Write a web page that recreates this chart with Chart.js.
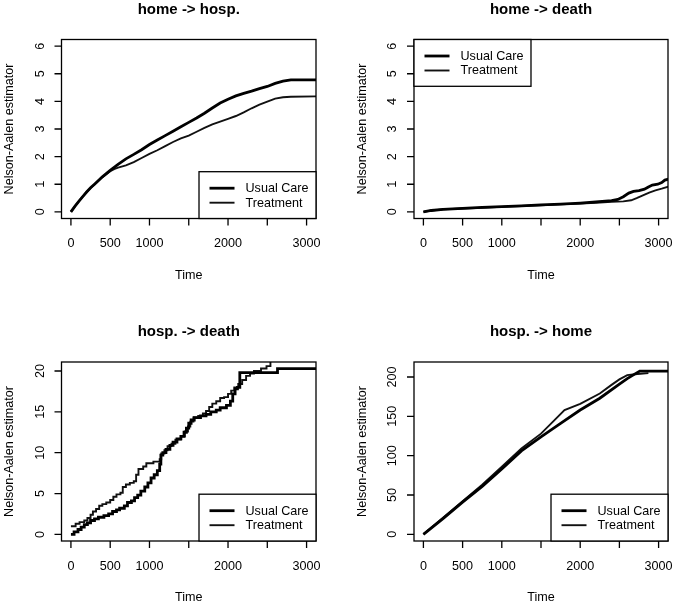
<!DOCTYPE html>
<html>
<head>
<meta charset="utf-8">
<script src="https://cdn.jsdelivr.net/npm/chart.js@4.4.1/dist/chart.umd.min.js"></script>
<style>
    body { margin: 0; background: #fff; overflow: hidden; }
    #wrap { position: relative; width: 675px; height: 603px; }
    canvas { position: absolute; }
</style>
</head>
<body>
<div id="wrap">
    <canvas id="p1" width="337" height="300" style="left:0;top:0"></canvas>
    <canvas id="p2" width="338" height="300" style="left:337px;top:0"></canvas>
    <canvas id="p3" width="337" height="303" style="left:0;top:300px"></canvas>
    <canvas id="p4" width="338" height="303" style="left:337px;top:300px"></canvas>
</div>
<script>
const seriesNames = ['Usual Care', 'Treatment'];
const xTicks = [0, 500, 1000, 1500, 2000, 2500, 3000];
const xTickLabels = ['0', '500', '1000', '', '2000', '', '3000'];

// home -> hosp.
const hospTimes = [0, 50, 100, 150, 200, 250, 300, 400, 500, 550, 600, 700, 800, 900, 1000, 1100, 1200, 1300, 1400, 1500,
    1600, 1700, 1800, 1900, 2000, 2100, 2200, 2300, 2400, 2500, 2600, 2700, 2800, 3140];
const hospUsual = [0, 0.2, 0.38, 0.55, 0.72, 0.87, 1.0, 1.27, 1.5, 1.61, 1.72, 1.92, 2.08, 2.25, 2.44, 2.6, 2.76, 2.92, 3.08, 3.24,
    3.4, 3.57, 3.76, 3.94, 4.08, 4.2, 4.29, 4.37, 4.46, 4.54, 4.65, 4.73, 4.78, 4.78];
const hospTreat = [0, 0.2, 0.38, 0.55, 0.72, 0.86, 0.99, 1.25, 1.47, 1.55, 1.6, 1.68, 1.8, 1.95, 2.1, 2.23, 2.38, 2.53, 2.66, 2.76,
    2.9, 3.04, 3.17, 3.27, 3.37, 3.47, 3.6, 3.75, 3.88, 3.99, 4.1, 4.15, 4.17, 4.18];
const hospYTicks = [0, 1, 2, 3, 4, 5, 6];

// home -> death
const deathUsualT = [0, 100, 250, 500, 750, 1000, 1250, 1500, 1750, 2000, 2200, 2400, 2480, 2550, 2620, 2680, 2750, 2820, 2870, 2920, 2990, 3040, 3080, 3140];
const deathUsualY = [0, 0.05, 0.09, 0.13, 0.16, 0.19, 0.22, 0.25, 0.28, 0.32, 0.36, 0.41, 0.45, 0.55, 0.68, 0.74, 0.77, 0.82, 0.9, 0.97, 1.0, 1.06, 1.15, 1.2];
const deathTreatT = [0, 100, 250, 500, 750, 1000, 1250, 1500, 1750, 2000, 2200, 2400, 2550, 2650, 2720, 2800, 2880, 2960, 3040, 3140];
const deathTreatY = [0, 0.05, 0.09, 0.12, 0.15, 0.18, 0.21, 0.24, 0.27, 0.3, 0.33, 0.36, 0.38, 0.42, 0.5, 0.6, 0.7, 0.78, 0.84, 0.93];

// hosp. -> death (step functions)
const hdUsualT = [0, 40, 90, 130, 170, 210, 250, 300, 350, 420, 480, 530, 580, 620, 680, 720, 770, 810, 850, 890, 940, 980, 1020,
    1060, 1100, 1130, 1145, 1170, 1210, 1260, 1300, 1350, 1400, 1440, 1470, 1500, 1530, 1570, 1650, 1720, 1780, 1850, 1900, 1980,
    2030, 2060, 2090, 2120, 2150, 2630, 3140];
const hdUsualY = [0, 0.3, 0.6, 0.9, 1.2, 1.4, 1.7, 1.9, 2.1, 2.3, 2.5, 2.8, 3.0, 3.2, 3.5, 3.9, 4.1, 4.5, 4.8, 5.3, 5.8, 6.3, 6.9,
    7.3, 7.8, 8.6, 9.7, 10.0, 10.4, 10.9, 11.3, 11.7, 12.0, 12.5, 13.0, 13.6, 14.0, 14.3, 14.5, 14.7, 15.0, 15.2, 15.5, 15.8,
    16.3, 17.2, 17.8, 18.0, 19.8, 20.3, 20.3];
const hdTreatT = [0, 60, 110, 170, 210, 250, 280, 320, 360, 400, 450, 500, 540, 580, 630, 660, 700, 750, 800, 830, 860, 920, 960,
    1050, 1130, 1150, 1190, 1230, 1280, 1330, 1400, 1450, 1490, 1520, 1560, 1620, 1680, 1720, 1760, 1800, 1850, 1900, 1950, 2000,
    2040, 2080, 2130, 2180, 2230, 2280, 2330, 2420, 2490, 2540];
const hdTreatY = [1.0, 1.3, 1.5, 1.7, 2.0, 2.4, 2.8, 3.1, 3.5, 3.7, 3.9, 4.2, 4.6, 4.9, 5.1, 5.8, 6.1, 6.3, 6.5, 7.3, 8.0, 8.3, 8.7,
    8.9, 9.2, 9.9, 10.3, 10.8, 11.1, 11.6, 12.0, 12.6, 13.2, 13.8, 14.3, 14.5, 14.8, 15.1, 15.6, 16.0, 16.3, 16.7, 16.8, 17.2,
    17.6, 18.0, 18.4, 18.9, 19.4, 19.7, 20.0, 20.3, 20.6, 21.4];
const hdYTicks = [0, 5, 10, 15, 20];

// hosp. -> home
const homeUsualT = [0, 250, 500, 750, 1000, 1250, 1500, 1750, 2000, 2250, 2500, 2600, 2700, 2760, 3140];
const homeUsualY = [0, 20, 41, 61, 83, 106, 124, 141, 158, 173, 191, 198, 204, 207.5, 207.5];
const homeTreatT = [0, 250, 500, 750, 1000, 1250, 1500, 1650, 1800, 2000, 2250, 2400, 2500, 2600, 2700, 2870];
const homeTreatY = [0, 21, 42, 63, 86, 109, 128, 143, 158, 166, 179, 190, 197, 202.5, 203.5, 205];
const homeYTicks = [0, 50, 100, 150, 200];

const FONT = '"Liberation Sans", Arial, Helvetica, sans-serif';

function pairs(t, y) {
    return t.map(function (v, i) { return { x: v, y: y[i] }; });
}

// draws the base-graphics look: box, ticks, labels, title and legend
const rPlot = {
    id: 'rPlot',
    afterDatasetsDraw(chart, args, opts) {
        const ctx = chart.ctx;
        const a = chart.chartArea;
        const xs = chart.scales.x;
        const ys = chart.scales.y;
        ctx.save();
        ctx.strokeStyle = '#000';
        ctx.fillStyle = '#000';
        ctx.lineWidth = 1.3;
        ctx.strokeRect(a.left, a.top, a.right - a.left, a.bottom - a.top);

        ctx.beginPath();
        xTicks.forEach(function (v) {
            const px = xs.getPixelForValue(v);
            ctx.moveTo(px, a.bottom);
            ctx.lineTo(px, a.bottom + 7);
        });
        opts.yTicks.forEach(function (v) {
            const py = ys.getPixelForValue(v);
            ctx.moveTo(a.left, py);
            ctx.lineTo(a.left - 7, py);
        });
        ctx.stroke();

        ctx.font = '12.6px ' + FONT;
        ctx.textAlign = 'center';
        ctx.textBaseline = 'alphabetic';
        xTicks.forEach(function (v, i) {
            ctx.fillText(xTickLabels[i], xs.getPixelForValue(v), a.bottom + 28.5);
        });
        opts.yTicks.forEach(function (v) {
            ctx.save();
            ctx.translate(a.left - 18, ys.getPixelForValue(v));
            ctx.rotate(-Math.PI / 2);
            ctx.fillText(String(v), 0, 0);
            ctx.restore();
        });

        ctx.fillText('Time', (a.left + a.right) / 2, a.bottom + 60);
        ctx.save();
        ctx.translate(a.left - 48.2, (a.top + a.bottom) / 2);
        ctx.rotate(-Math.PI / 2);
        ctx.fillText('Nelson-Aalen estimator', 0, 0);
        ctx.restore();

        ctx.font = 'bold 15px ' + FONT;
        ctx.fillText(opts.title, (a.left + a.right) / 2, a.top - 26);

        // legend
        ctx.font = '12.6px ' + FONT;
        const ds = chart.data.datasets;
        let tw = 0;
        ds.forEach(function (d) { tw = Math.max(tw, ctx.measureText(d.label).width); });
        const bw = 46.5 + tw + 7.5;
        const bh = 46.8;
        let x0 = a.left, y0 = a.top;
        if (opts.legend === 'bottomright') {
            x0 = a.right - bw;
            y0 = a.bottom - bh;
        }
        ctx.fillStyle = '#fff';
        ctx.fillRect(x0, y0, bw, bh);
        ctx.strokeRect(x0, y0, bw, bh);
        ctx.textAlign = 'left';
        ctx.textBaseline = 'middle';
        ds.forEach(function (d, i) {
            const ly = y0 + 16.5 + 14.5 * i;
            ctx.beginPath();
            ctx.strokeStyle = d.borderColor;
            ctx.lineWidth = d.borderWidth;
            ctx.moveTo(x0 + 10.5, ly);
            ctx.lineTo(x0 + 35.5, ly);
            ctx.stroke();
            ctx.fillStyle = '#000';
            ctx.fillText(d.label, x0 + 46.5, ly + 0.5);
        });
        ctx.restore();
    }
};

function createChart(chartId, usual, treat, yMin, yMax, yTicks, title, legend, stepped, pad) {
    const ctx = document.getElementById(chartId).getContext('2d');
    const lineStyle = { pointRadius: 0, tension: 0, stepped: stepped, fill: false };
    new Chart(ctx, {
        type: 'line',
        data: {
            datasets: [
                Object.assign({ label: seriesNames[0], data: usual, borderColor: '#000', borderWidth: 2.8 }, lineStyle),
                Object.assign({ label: seriesNames[1], data: treat, borderColor: '#111', borderWidth: 1.9 }, lineStyle)
            ]
        },
        options: {
            responsive: false,
            animation: false,
            events: [],
            layout: { padding: pad },
            scales: {
                x: { type: 'linear', min: -120, max: 3120, display: false },
                y: { type: 'linear', min: yMin, max: yMax, display: false }
            },
            plugins: {
                legend: { display: false },
                tooltip: { enabled: false },
                rPlot: { title: title, legend: legend, yTicks: yTicks }
            }
        },
        plugins: [rPlot]
    });
}

const padTopL = { left: 61.5, right: 21, top: 39.5, bottom: 81.5 };
const padTopR = { left: 77, right: 7, top: 39.5, bottom: 81.5 };
const padBotL = { left: 61.5, right: 21, top: 62, bottom: 62 };
const padBotR = { left: 77, right: 7, top: 62, bottom: 62 };

createChart('p1', pairs(hospTimes, hospUsual), pairs(hospTimes, hospTreat), -0.24, 6.24, hospYTicks,
    'home -> hosp.', 'bottomright', false, padTopL);
createChart('p2', pairs(deathUsualT, deathUsualY), pairs(deathTreatT, deathTreatY), -0.24, 6.24, hospYTicks,
    'home -> death', 'topleft', false, padTopR);
createChart('p3', pairs(hdUsualT, hdUsualY), pairs(hdTreatT, hdTreatY), -0.81, 21.1, hdYTicks,
    'hosp. -> death', 'bottomright', true, padBotL);
createChart('p4', pairs(homeUsualT, homeUsualY), pairs(homeTreatT, homeTreatY), -8.5, 219.1, homeYTicks,
    'hosp. -> home', 'bottomright', false, padBotR);
</script>
</body>
</html>
